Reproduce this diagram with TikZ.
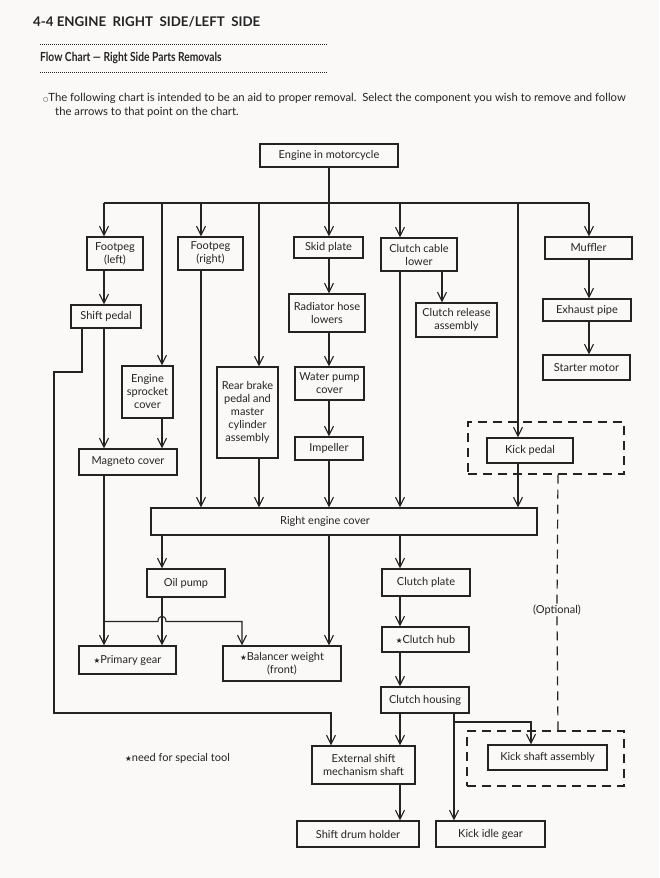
\documentclass[tikz,border=0pt]{standalone}
\usepackage{fontspec}
\usepackage{graphicx}
\setmainfont{Lato}
\newfontfamily\symfont{DejaVu Sans}
\usetikzlibrary{arrows.meta}
\definecolor{ink}{RGB}{35,35,35}
\definecolor{bg}{RGB}{251,249,248}
\newcommand{\mystar}{{\symfont\fontsize{7.5}{7.5}\selectfont ★}}
\begin{document}
\begin{tikzpicture}[x=1pt,y=-1pt,
  box/.style={draw=ink, line width=1.2pt, inner sep=0pt, align=center, text=ink,
    font=\fontsize{11}{13}\selectfont},
  dbox/.style={draw=ink, line width=1.2pt, dash pattern=on 9pt off 6pt, inner sep=0pt},
  ln/.style={draw=ink, line width=1.1pt},
  arr/.style={draw=ink, line width=1.1pt, -{Straight Barb[length=9pt,width=9pt,line width=1.1pt]}},
  dsh/.style={draw=ink, line width=1.2pt, dash pattern=on 9pt off 6pt},
  dots/.style={draw=ink, line width=1pt, dash pattern=on 0.9pt off 1.1pt},
  txt/.style={text=ink, inner sep=0pt, anchor=west}
]
\fill[bg] (0,0) rectangle (659,878);
\useasboundingbox (0,0) rectangle (659,878);

% header
\node[txt, font=\fontsize{13.3}{15}\selectfont\bfseries] (title) at (33,22) {4-4 ENGINE\ \ RIGHT\ \ SIDE/LEFT\ \ SIDE};
\draw[dots] (40,44) -- (327,44);
\node[txt, font=\fontsize{12.5}{14}\selectfont\bfseries] (sub) at (40,58) {\scalebox{0.82}[1]{Flow Chart — Right Side Parts Removals}};
\draw[dots] (40,72) -- (327,72);
\node[txt, font=\fontsize{11.3}{13}\selectfont] (p1) at (43,98) {{\symfont\fontsize{6}{6}\selectfont ○}The following chart is intended to be an aid to proper removal.\ \ Select the component you wish to remove and follow};
\node[txt, font=\fontsize{11.3}{13}\selectfont] (p2) at (55,112) {the arrows to that point on the chart.};

% boxes
\node[box, minimum width=138, minimum height=23] (eng) at (329,155.5) {Engine in motorcycle};
\node[box, minimum width=56, minimum height=33] (fpl) at (115,253.5) {Footpeg\\(left)};
\node[box, minimum width=65, minimum height=33] (fpr) at (210.5,253.5) {Footpeg\\(right)};
\node[box, minimum width=69, minimum height=21] (skid) at (328.5,247.5) {Skid plate};
\node[box, minimum width=76, minimum height=33] (ccl) at (419,254.5) {Clutch cable\\lower};
\node[box, minimum width=87, minimum height=22] (muf) at (588.5,248) {Muffler};
\node[box, minimum width=70, minimum height=23] (shift) at (106,316.5) {Shift pedal};
\node[box, minimum width=76, minimum height=38] (rad) at (327,313) {Radiator hose\\lowers};
\node[box, minimum width=81, minimum height=34] (cra) at (456.5,320) {Clutch release\\assembly};
\node[box, minimum width=88, minimum height=22] (exh) at (587,310) {Exhaust pipe};
\node[box, minimum width=87, minimum height=25] (sm) at (586.5,367.5) {Starter motor};
\node[box, minimum width=51, minimum height=52] (esc) at (147.5,392) {Engine\\sprocket\\cover};
\node[box, minimum width=61, minimum height=91] (rb) at (247.5,412.5) {Rear brake\\pedal and\\master\\cylinder\\assembly};
\node[box, minimum width=69, minimum height=33] (wpc) at (329.5,383.5) {Water pump\\cover};
\node[box, minimum width=68, minimum height=23] (imp) at (329,448.5) {Impeller};
\node[box, minimum width=86, minimum height=25] (kp) at (530,450.5) {Kick pedal};
\node[dbox, minimum width=156, minimum height=52] (kpd) at (546,448) {};
\node[box, minimum width=98, minimum height=26] (mag) at (128,462) {Magneto cover};
\node[box, minimum width=386, minimum height=27] (rec) at (344,521.5) {Right engine cover\hspace{38pt}};
\node[box, minimum width=78, minimum height=28] (oil) at (186,583) {Oil pump};
\node[box, minimum width=88, minimum height=27] (cp) at (426,582.5) {Clutch plate};
\node[box, minimum width=87, minimum height=25] (ch) at (425.5,639.5) {\mystar Clutch hub};
\node[box, minimum width=97, minimum height=28] (pg) at (127.5,660) {\mystar Primary gear};
\node[box, minimum width=118, minimum height=35] (bw) at (282,663.5) {\mystar Balancer weight\\(front)};
\node[box, minimum width=88, minimum height=26] (chs) at (425,700) {Clutch housing};
\node[box, minimum width=103, minimum height=38] (ext) at (363.5,765) {External shift\\mechanism shaft};
\node[box, minimum width=119, minimum height=25] (ksa) at (547.5,757.5) {Kick shaft assembly};
\node[dbox, minimum width=157, minimum height=55] (ksad) at (545.5,758.5) {};
\node[box, minimum width=122, minimum height=26] (sdh) at (358,834) {Shift drum holder};
\node[box, minimum width=109, minimum height=26] (kig) at (490.5,834) {Kick idle gear};
\node[txt, font=\fontsize{11}{13}\selectfont] (note) at (125,758) {\mystar need for special tool};
\node[text=ink, inner sep=1pt, font=\fontsize{11}{13}\selectfont] (opt) at (557,610) {(Optional)};

% column coordinates
\coordinate (bus) at (0,203);
\foreach \n/\x in {A/104,B/162,C/201,D/259,E/329,F/400,G/518,H/589,I/442,J/82,K/54,L/242,N/454,O/531,P/558,Q/331}
  \coordinate (x\n) at (\x,0);
\coordinate (yj) at (0,621.5);
\coordinate (yb) at (0,722);
\coordinate (yl1) at (0,372);
\coordinate (yl2) at (0,713);
\coordinate (bumpL) at (158,621.5);
\coordinate (bumpR) at (166,621.5);

% bus
\draw[ln] (eng.south) -- (xE |- bus);
\draw[ln] (xA |- bus) -- (xH |- bus);
\foreach \c/\b in {A/fpl,C/fpr,E/skid,F/ccl,H/muf,B/esc,D/rb,G/kp}
  \draw[arr] (x\c |- bus) -- (x\c |- \b.north);

% chains
\draw[arr] (xA |- fpl.south) -- (xA |- shift.north);
\draw[arr] (xA |- shift.south) -- (xA |- mag.north);
\draw[arr] (xB |- esc.south) -- (xB |- mag.north);
\draw[arr] (xC |- fpr.south) -- (xC |- rec.north);
\draw[arr] (xD |- rb.south) -- (xD |- rec.north);
\draw[arr] (xE |- skid.south) -- (xE |- rad.north);
\draw[arr] (xE |- rad.south) -- (xE |- wpc.north);
\draw[arr] (xE |- wpc.south) -- (xE |- imp.north);
\draw[arr] (xE |- imp.south) -- (xE |- rec.north);
\draw[arr] (xF |- ccl.south) -- (xF |- rec.north);
\draw[arr] (xI |- ccl.south) -- (xI |- cra.north);
\draw[arr] (xH |- muf.south) -- (xH |- exh.north);
\draw[arr] (xH |- exh.south) -- (xH |- sm.north);
\draw[arr] (xG |- kp.south) -- (xG |- rec.north);
\draw[arr] (xB |- rec.south) -- (xB |- oil.north);
\draw[arr] (xB |- oil.south) -- (xB |- pg.north);
\draw[arr] (xA |- mag.south) -- (xA |- pg.north);
\draw[arr] (xA |- yj) -- (bumpL) .. controls (158,614.5) and (166,614.5) .. (bumpR) -- (xL |- yj) -- (xL |- bw.north);
\draw[arr] (xE |- rec.south) -- (xE |- bw.north);
\draw[arr] (xF |- rec.south) -- (xF |- cp.north);
\draw[arr] (xF |- cp.south) -- (xF |- ch.north);
\draw[arr] (xF |- ch.south) -- (xF |- chs.north);
\draw[arr] (xF |- chs.south) -- (xF |- ext.north);
\draw[arr] (xF |- ext.south) -- (xF |- sdh.north);
\draw[arr] (xN |- chs.south) -- (xN |- kig.north);
\draw[arr] (xN |- yb) -- (xO |- yb) -- (xO |- ksa.north);
\draw[arr] (xJ |- shift.south) -- (xJ |- yl1) -- (xK |- yl1) -- (xK |- yl2) -- (xQ |- yl2) -- (xQ |- ext.north);

% optional dashed link
\draw[dsh] (xP |- kpd.south) -- (opt.north);
\draw[dsh] (opt.south) -- (xP |- ksad.north);
\end{tikzpicture}
\end{document}
